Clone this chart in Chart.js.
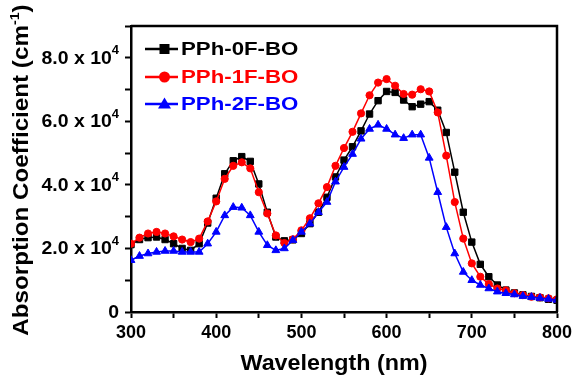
<!DOCTYPE html>
<html>
<head>
<meta charset="utf-8">
<style>
  html, body { margin: 0; padding: 0; background: #ffffff; }
  canvas { display: block; }
</style>
<script src="https://cdn.jsdelivr.net/npm/chart.js@4/dist/chart.umd.min.js"></script>
</head>
<body>
<canvas id="c" width="577" height="378"></canvas>
<script>
// Absorption spectra of the three polymer films, sampled every 10 nm
const wavelength = [300, 310, 320, 330, 340, 350, 360, 370, 380, 390,
  400, 410, 420, 430, 440, 450, 460, 470, 480, 490,
  500, 510, 520, 530, 540, 550, 560, 570, 580, 590,
  600, 610, 620, 630, 640, 650, 660, 670, 680, 690,
  700, 710, 720, 730, 740, 750, 760, 770, 780, 790, 800];

const pph0F = [21200, 22800, 23400, 23600, 22800, 21500, 20000, 19400, 21500, 28000,
  35800, 43500, 47600, 48900, 47400, 40300, 31400, 23600, 22400, 22700,
  24700, 27800, 31400, 36100, 42500, 47800, 52000, 57000, 62300, 66500,
  69400, 69100, 66700, 64600, 65400, 66200, 63500, 56500, 44000, 31400,
  22000, 15000, 11100, 8500, 6900, 6000, 5400, 4900, 4500, 4000, 3700];

const pph1F = [21500, 23400, 24700, 25200, 24700, 23800, 22800, 22000, 23100, 28500,
  34800, 41900, 46000, 47100, 45200, 37700, 31000, 24100, 21700, 22900,
  25700, 29500, 34200, 39300, 46000, 51600, 56700, 62500, 68200, 72200,
  73300, 71200, 68600, 68400, 70100, 69400, 62800, 49200, 34600, 23100,
  15300, 11100, 8800, 7400, 6800, 5900, 5300, 4800, 4600, 4300, 4000];

const pph2F = [16300, 17600, 18400, 18900, 19200, 19200, 18900, 18900, 18900, 21500,
  25200, 30400, 33000, 32800, 30400, 25200, 21000, 19400, 20000, 22600,
  25200, 27800, 31400, 34600, 41000, 45600, 49700, 54500, 57600, 58900,
  57600, 55800, 54700, 55800, 55800, 48500, 37700, 26700, 18400, 12600,
  10000, 8500, 7400, 6400, 5900, 5500, 5000, 4700, 4400, 4100, 3800];

const seriesNames = ['PPh-0F-BO', 'PPh-1F-BO', 'PPh-2F-BO'];
const seriesColors = ['#000000', '#ff0000', '#0000ff'];
const seriesMarkers = ['rect', 'circle', 'triangle'];

// Y tick labels: mantissa text and power of ten
const yTickValues = [0, 20000, 40000, 60000, 80000];
const yTickText = ['0', '2.0 x 10', '4.0 x 10', '6.0 x 10', '8.0 x 10'];
const yTickPower = ['', '4', '4', '4', '4'];

const xTitle = 'Wavelength (nm)';
const yTitleParts = ['Absorption Coefficient (cm', '-1', ')'];

const FONT = '"Liberation Sans", Arial, Helvetica, sans-serif';

function toPoints(values) {
  return wavelength.map((w, i) => ({ x: w, y: values[i] }));
}

// width of a string drawn with a horizontal stretch factor
function textWidth(ctx, text, font, sx) {
  ctx.font = font;
  return ctx.measureText(text).width * sx;
}

// draw a left-aligned string stretched horizontally by sx
function stretchedText(ctx, text, x, y, font, sx) {
  ctx.save();
  ctx.font = font;
  ctx.textAlign = 'left';
  ctx.textBaseline = 'middle';
  ctx.translate(x, y);
  ctx.scale(sx, 1);
  ctx.fillText(text, 0, 0);
  ctx.restore();
}

const allSeries = [pph0F, pph1F, pph2F];
const markerRadius = [4.5, 3.6, 4.5];
const drawOrder = [3, 2, 1];

const datasets = allSeries.map((vals, i) => ({
  label: seriesNames[i],
  data: toPoints(vals),
  borderColor: seriesColors[i],
  backgroundColor: seriesColors[i],
  borderWidth: 1.5,
  pointStyle: seriesMarkers[i],
  pointRadius: markerRadius[i],
  pointBorderWidth: 1,
  pointBackgroundColor: seriesColors[i],
  pointBorderColor: seriesColors[i],
  tension: 0,
  order: drawOrder[i]
}));

// Frame, tick labels with superscripts, axis titles and the legend box
const decorations = {
  id: 'decorations',
  afterDraw(chart) {
    const ctx = chart.ctx;
    const area = chart.chartArea;
    const ys = chart.scales.y;
    ctx.save();

    // top and right edges of the plot box
    ctx.strokeStyle = '#000';
    ctx.lineWidth = 2.5;
    ctx.beginPath();
    ctx.moveTo(area.left, area.top);
    ctx.lineTo(area.right, area.top);
    ctx.lineTo(area.right, area.bottom);
    ctx.stroke();

    ctx.fillStyle = '#000';

    // y tick labels
    const tickFont = 'bold 18px ' + FONT;
    const powFont = 'bold 12px ' + FONT;
    const tickSx = 1.08;
    const rightEdge = area.left - 12;
    for (let i = 0; i < yTickValues.length; i++) {
      const py = ys.getPixelForValue(yTickValues[i]);
      let x = rightEdge;
      if (yTickPower[i]) {
        const pw = textWidth(ctx, yTickPower[i], powFont, tickSx);
        stretchedText(ctx, yTickPower[i], x - pw, py - 7, powFont, tickSx);
        x -= pw;
      }
      const tw = textWidth(ctx, yTickText[i], tickFont, tickSx);
      stretchedText(ctx, yTickText[i], x - tw, py + 1, tickFont, tickSx);
    }

    // x axis title
    const titleFont = 'bold 22px ' + FONT;
    const xtw = textWidth(ctx, xTitle, titleFont, 1.06);
    stretchedText(ctx, xTitle, 334 - xtw / 2, 364, titleFont, 1.06);

    // y axis title
    ctx.save();
    ctx.translate(22, 170);
    ctx.rotate(-Math.PI / 2);
    const supFont = 'bold 13px ' + FONT;
    const ySx = 1.1;
    const w1 = textWidth(ctx, yTitleParts[0], titleFont, ySx);
    const w2 = textWidth(ctx, yTitleParts[1], supFont, ySx);
    const w3 = textWidth(ctx, yTitleParts[2], titleFont, ySx);
    let tx = -(w1 + w2 + w3) / 2;
    stretchedText(ctx, yTitleParts[0], tx, 0, titleFont, ySx);
    tx += w1;
    stretchedText(ctx, yTitleParts[1], tx, -7, supFont, ySx);
    tx += w2;
    stretchedText(ctx, yTitleParts[2], tx, 0, titleFont, ySx);
    ctx.restore();

    // legend
    const lx0 = 145, lx1 = 178, textX = 181;
    const rowY = [49, 77, 104];
    const legFont = 'bold 19px ' + FONT;
    for (let i = 0; i < seriesNames.length; i++) {
      const y = rowY[i];
      const c = seriesColors[i];
      ctx.strokeStyle = c;
      ctx.fillStyle = c;
      ctx.lineWidth = 2.5;
      ctx.beginPath();
      ctx.moveTo(lx0, y);
      ctx.lineTo(lx1, y);
      ctx.stroke();
      const mx = (lx0 + lx1) / 2 + 3;
      ctx.beginPath();
      if (seriesMarkers[i] === 'rect') {
        ctx.rect(mx - 5, y - 5, 10, 10);
      } else if (seriesMarkers[i] === 'circle') {
        ctx.arc(mx, y, 5.5, 0, Math.PI * 2);
      } else {
        ctx.moveTo(mx, y - 6.5);
        ctx.lineTo(mx + 6.5, y + 4.5);
        ctx.lineTo(mx - 6.5, y + 4.5);
        ctx.closePath();
      }
      ctx.fill();
      stretchedText(ctx, seriesNames[i], textX, y + 1, legFont, 1.17);
    }
    ctx.restore();
  }
};

const whiteBg = {
  id: 'whiteBg',
  beforeDraw(chart) {
    const ctx = chart.ctx;
    ctx.save();
    ctx.fillStyle = '#ffffff';
    ctx.fillRect(0, 0, chart.width, chart.height);
    ctx.restore();
  }
};

new Chart(document.getElementById('c'), {
  type: 'line',
  data: { datasets },
  options: {
    responsive: false,
    animation: false,
    devicePixelRatio: 1,
    layout: { padding: { top: 26, right: 20, left: 0, bottom: 0 } },
    plugins: {
      legend: { display: false },
      tooltip: { enabled: false }
    },
    scales: {
      x: {
        type: 'linear',
        min: 300,
        max: 800,
        border: { display: true, color: '#000', width: 2.5 },
        grid: { drawOnChartArea: false, drawTicks: true, tickLength: 6, tickWidth: 2, tickColor: '#000' },
        ticks: {
          stepSize: 50,
          color: '#000',
          padding: 4,
          maxRotation: 0,
          autoSkip: false,
          font: { family: FONT, size: 18, weight: 'bold' },
          callback: (v) => (v % 100 === 0 ? String(v) : '')
        },
        afterFit(scale) { scale.height = 66; }
      },
      y: {
        type: 'linear',
        min: 0,
        max: 90000,
        border: { display: true, color: '#000', width: 2.5 },
        grid: { drawOnChartArea: false, drawTicks: true, tickLength: 6, tickWidth: 2, tickColor: '#000' },
        ticks: {
          stepSize: 10000,
          color: '#000',
          font: { family: FONT, size: 17, weight: 'bold' },
          callback: () => ''
        },
        afterFit(scale) { scale.width = 131; }
      }
    }
  },
  plugins: [whiteBg, decorations]
});
</script>
</body>
</html>
